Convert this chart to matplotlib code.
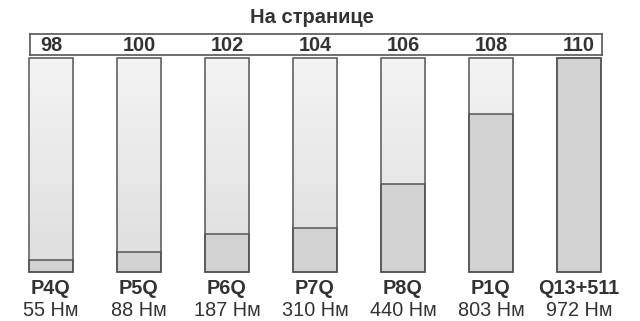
import matplotlib.pyplot as plt
import numpy as np

plt.rcParams['font.family'] = ['Liberation Sans', 'DejaVu Sans']

# data
pages = ["98", "100", "102", "104", "106", "108", "110"]
models = ["P4Q", "P5Q", "P6Q", "P7Q", "P8Q", "P1Q", "Q13+511"]
torque = [55, 88, 187, 310, 440, 803, 972]
fill_level = [0.056, 0.092, 0.176, 0.205, 0.411, 0.738, 1.0]

TXT = "#333333"
EDGE = "#555555"
FILL = "#d2d2d2"

W, H = 640, 321
fig = plt.figure(figsize=(W / 100, H / 100), dpi=100)

def px_axes(x0, y0, x1, y1):
    # pixel box (top-left origin) -> figure axes
    return fig.add_axes([x0 / W, 1 - y1 / H, (x1 - x0) / W, (y1 - y0) / H])

step = 88.0
c0 = 51.0
xlim = ((30 - c0) / step, (602 - c0) / step)
bw = 43.4 / step
x = np.arange(len(models))

# header box with page numbers
hax = px_axes(30, 33.5, 602, 55)
hax.set_xlim(*xlim)
hax.set_ylim(0, 1)
hax.set_xticks([])
hax.set_yticks([])
for s in hax.spines.values():
    s.set_color(EDGE)
    s.set_linewidth(1.2)
for xi, p in zip(x, pages):
    hax.text(xi, 0.45, p, ha="center", va="center", fontsize=14.3,
             fontweight="bold", color=TXT)

# bars
ax = px_axes(30, 57.5, 602, 271.7)
ax.set_xlim(*xlim)
ax.set_ylim(0, 1)
ax.axis("off")

grad = np.linspace(0, 1, 100).reshape(-1, 1)
cmap = plt.matplotlib.colors.LinearSegmentedColormap.from_list(
    "g", ["#dedede", "#f4f4f4"])
for xi, f in zip(x, fill_level):
    ax.imshow(grad, extent=(xi - bw / 2, xi + bw / 2, 0, 1), origin="lower",
              aspect="auto", cmap=cmap, zorder=1)
ax.bar(x, fill_level, width=bw, bottom=0, color=FILL, edgecolor=EDGE,
       linewidth=1.1, zorder=2, clip_on=False)
ax.bar(x, [1.0] * len(x), width=bw, bottom=0, color="none", edgecolor=EDGE,
       linewidth=1.1, zorder=3, clip_on=False)
ax.set_xlim(*xlim)
ax.set_ylim(0, 1)

trans = ax.get_xaxis_transform()
for xi, m, t in zip(x, models, torque):
    ax.text(xi, -0.078, m, transform=trans, ha="center", va="center",
            fontsize=14.3, fontweight="bold", color=TXT)
    ax.text(xi, -0.18, f"{t} Нм", transform=trans, ha="center",
            va="center", fontsize=14.3, color=TXT)

fig.text(312 / W, 1 - 17.5 / H, "На странице", ha="center", va="center",
         fontsize=14.5, fontweight="bold", color=TXT)

fig.savefig("out.png", dpi=100)
